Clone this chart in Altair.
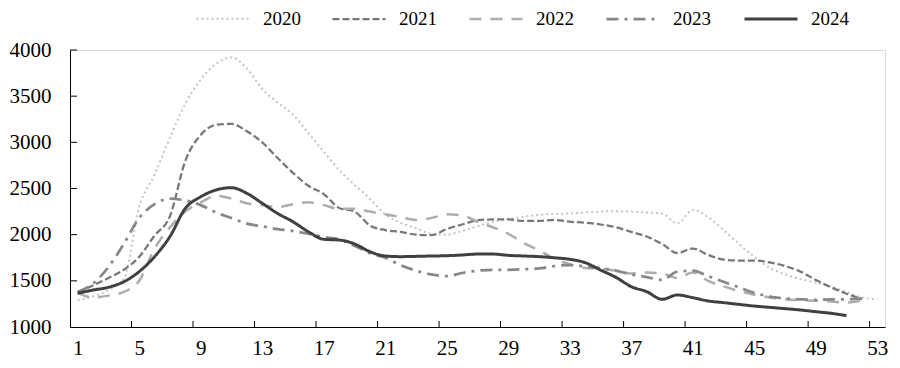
import altair as alt
import pandas as pd

years = ["2020", "2021", "2022", "2023", "2024"]

y2020 = [1290, 1330, 1400, 1520, 2300, 2650, 3050, 3420, 3680, 3850, 3920, 3800, 3580, 3430, 3300,
         3100, 2900, 2700, 2540, 2390, 2220, 2130, 2070, 2010, 2000, 2040, 2090, 2140, 2170, 2195,
         2215, 2225, 2230, 2240, 2250, 2255, 2250, 2240, 2230, 2120, 2270, 2190, 2050, 1900, 1760,
         1640, 1570, 1520, 1480, 1440, 1380, 1320, 1300]
y2021 = [1380, 1450, 1530, 1620, 1760, 1990, 2200, 2800, 3080, 3190, 3200, 3120, 3000, 2830, 2670,
         2530, 2440, 2290, 2250, 2100, 2050, 2030, 2000, 1995, 2060, 2110, 2155, 2165, 2165, 2150,
         2150, 2160, 2140, 2130, 2110, 2080, 2030, 1980, 1900, 1800, 1850, 1780, 1730, 1720, 1720,
         1700, 1660, 1600, 1510, 1430, 1360, 1300]
y2022 = [1370, 1320, 1340, 1380, 1500, 1850, 2080, 2250, 2350, 2420, 2390, 2340, 2320, 2300, 2330,
         2350, 2320, 2280, 2280, 2250, 2220, 2190, 2160, 2180, 2220, 2210, 2140, 2080, 2010, 1910,
         1830, 1740, 1680, 1640, 1630, 1610, 1580, 1590, 1580, 1530, 1590, 1500, 1440, 1390, 1350,
         1320, 1300, 1290, 1285, 1275, 1265, 1290]
y2023 = [1380, 1470, 1650, 1900, 2180, 2330, 2390, 2370, 2320, 2240, 2180, 2120, 2090, 2060, 2040,
         2010, 1975, 1950, 1880, 1800, 1750, 1670, 1610, 1570, 1550, 1585, 1610, 1620, 1620, 1625,
         1635, 1660, 1670, 1655, 1640, 1610, 1570, 1540, 1510, 1600, 1610, 1550, 1490, 1430, 1370,
         1330, 1310, 1300, 1295, 1300, 1300, 1310]
y2024 = [1365, 1400, 1430, 1490, 1600, 1762, 1980, 2285, 2410, 2484, 2509, 2448, 2340, 2230, 2140,
         2032, 1950, 1942, 1900, 1816, 1769, 1762, 1765, 1769, 1772, 1780, 1790, 1790, 1776, 1769,
         1762, 1750, 1733, 1697, 1617, 1538, 1437, 1383, 1300, 1347, 1318, 1282, 1264, 1245, 1227,
         1213, 1199, 1184, 1166, 1148, 1123]

x_labels = [1, 5, 9, 13, 17, 21, 25, 29, 33, 37, 41, 45, 49, 53]
x_ticks = [4.5, 8.5, 12.5, 16.5, 20.5, 24.5, 28.5, 32.5, 36.5, 40.5, 44.5, 48.5, 52.5]
y_ticks = [1000, 1500, 2000, 2500, 3000, 3500, 4000]

colors = ["#c4c4c4", "#777777", "#adadad", "#888888", "#404040"]
dashes = [[2, 3], [7, 3], [12, 9], [12, 6, 3, 6], [1, 0]]
widths = [2, 3, 3, 3, 3]

rows = []
for yr, vals in zip(years, [y2020, y2021, y2022, y2023, y2024]):
    for i, v in enumerate(vals):
        rows.append({"week": i + 1, "value": v, "year": yr})
df = pd.DataFrame(rows)

FONT = "Liberation Serif, Times New Roman, serif"
W, H = 815, 277

xscale = alt.Scale(domain=[0.5, 53.5], nice=False, zero=False)
yscale = alt.Scale(domain=[1000, 4000], nice=False, zero=False)

leg = alt.Legend(
    title=None, orient="none", legendX=125, legendY=-59, direction="horizontal",
    columns=5, symbolType="stroke", symbolSize=2809, symbolStrokeWidth=3,
    labelFont=FONT, labelFontSize=19, labelColor="black", labelOffset=12,
    columnPadding=27,
)

lines = alt.Chart(df).mark_line(interpolate="monotone").encode(
    x=alt.X("week:Q", scale=xscale,
            axis=alt.Axis(values=x_labels, title=None, ticks=False, grid=False, format="d",
                          labelFont=FONT, labelFontSize=21, labelColor="black",
                          labelPadding=10, domainColor="black", domainWidth=1)),
    y=alt.Y("value:Q", scale=yscale,
            axis=alt.Axis(values=y_ticks, title=None, ticks=False, grid=False, format="d",
                          labelFont=FONT, labelFontSize=21, labelColor="black",
                          labelPadding=19, domainColor="black", domainWidth=1)),
    color=alt.Color("year:N", scale=alt.Scale(domain=years, range=colors), legend=leg),
    strokeDash=alt.StrokeDash("year:N", scale=alt.Scale(domain=years, range=dashes), legend=leg),
    strokeWidth=alt.StrokeWidth("year:N", scale=alt.Scale(domain=years, range=widths), legend=None),
)

xt = alt.Chart(pd.DataFrame({"t": x_ticks})).mark_rule(color="black", strokeWidth=1).encode(
    x=alt.X("t:Q", scale=xscale), y=alt.value(H), y2=alt.value(H - 6)
)
yt = alt.Chart(pd.DataFrame({"v": y_ticks[1:]})).mark_rule(color="black", strokeWidth=1).encode(
    y=alt.Y("v:Q", scale=yscale), x=alt.value(0), x2=alt.value(7)
)

chart = alt.layer(lines, xt, yt).properties(
    width=W, height=H,
    autosize=alt.AutoSizeParams(type="none"),
    padding={"left": 62, "top": 42, "right": 7, "bottom": 33},
).configure_view(stroke=None).configure(background="white")

chart.save("out.html", embed_options={"renderer": "svg", "actions": False})
